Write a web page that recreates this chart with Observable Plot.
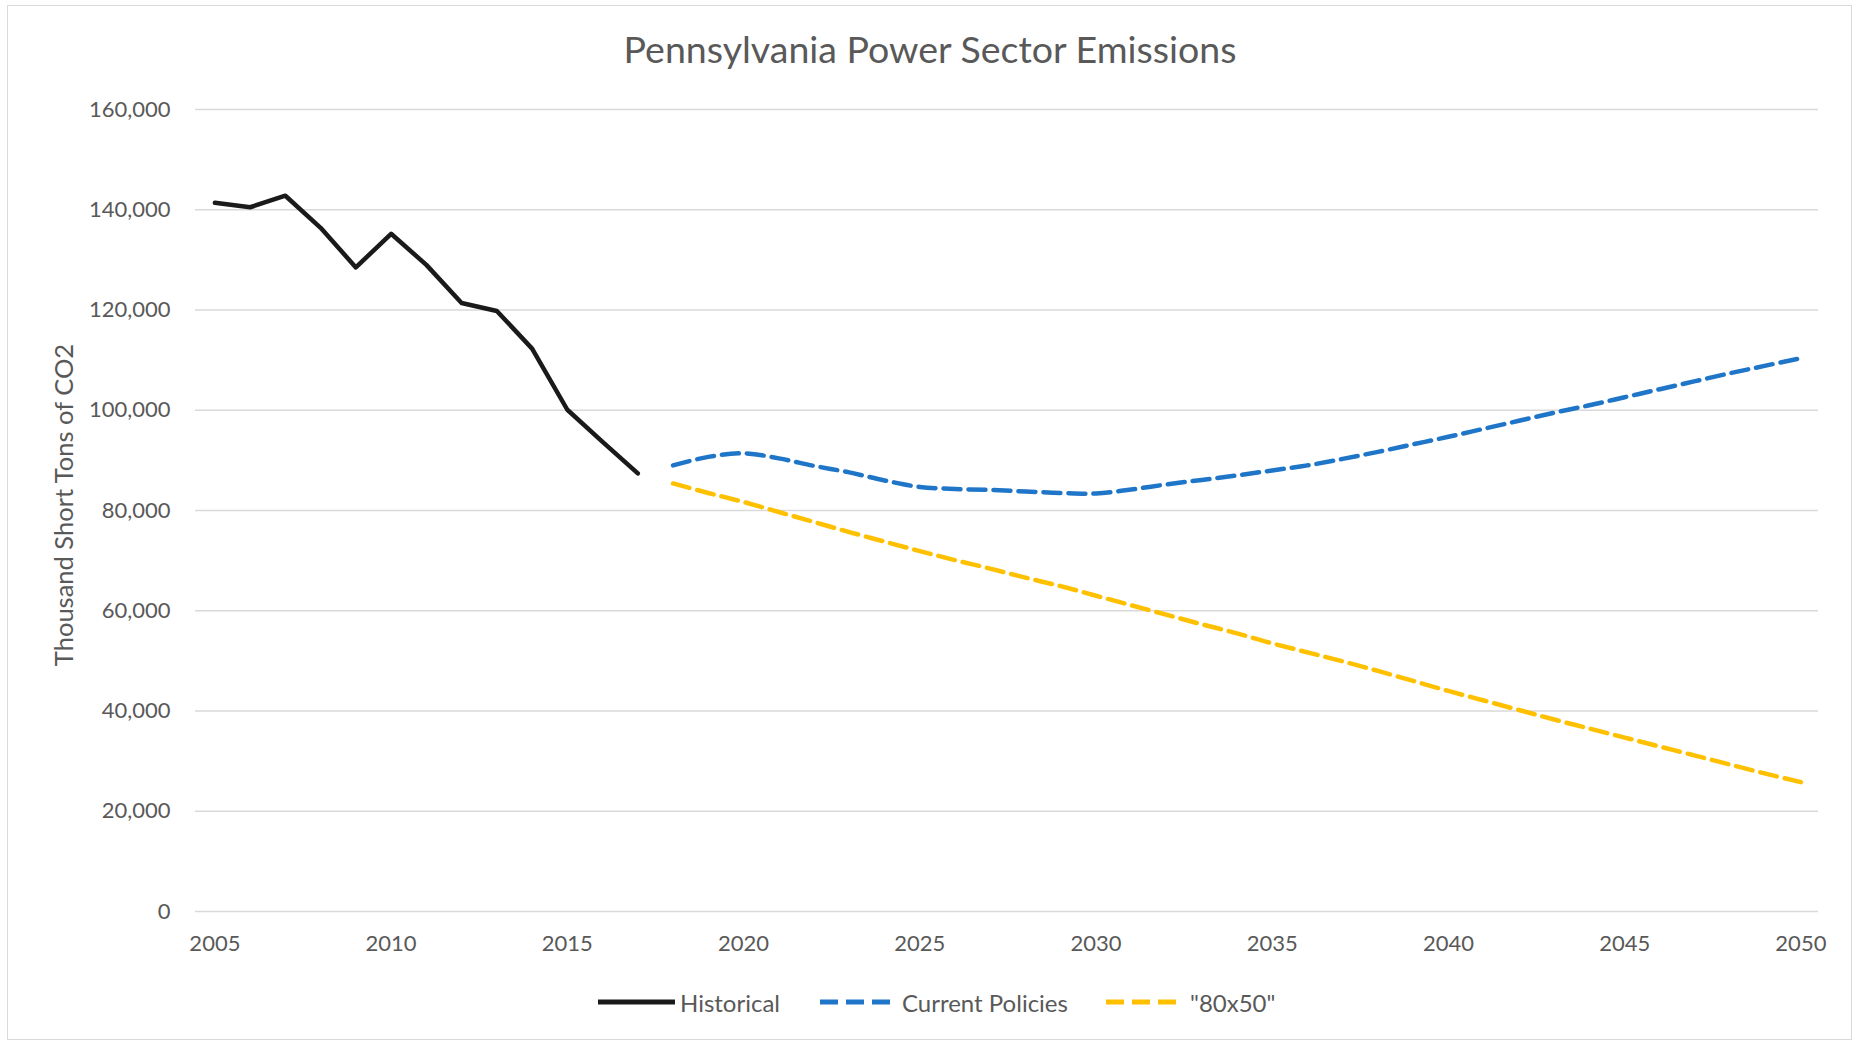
<!DOCTYPE html>
<html>
<head>
<meta charset="utf-8">
<script src="https://cdn.jsdelivr.net/npm/d3@7"></script>
<script src="https://cdn.jsdelivr.net/npm/@observablehq/plot@0.6"></script>
<style>
  html, body { margin: 0; padding: 0; background: #fff; }
  body { width: 1860px; height: 1042px; position: relative; overflow: hidden; font-family: Lato, "Open Sans", sans-serif; }
  #frame { position: absolute; left: 7px; top: 5px; width: 1845px; height: 1035px; border: 1.5px solid #d9d9d9; box-sizing: border-box; }
  #title { position: absolute; left: 0; top: 26px; width: 1860px; text-align: center; font-size: 37.5px; line-height: 1.2; color: #595959; white-space: nowrap; }
  #ylabel { position: absolute; left: -137px; top: 490px; width: 400px; height: 30px; line-height: 30px; text-align: center; font-size: 25.5px; color: #595959; transform: rotate(-90deg); white-space: nowrap; }
  #chart { position: absolute; left: 0; top: 80px; }
  .leg { position: absolute; top: 987px; height: 30px; display: flex; align-items: center; font-size: 24px; color: #595959; white-space: nowrap; }
  .leg svg { display: block; }
</style>
</head>
<body>
<div id="frame"></div>
<div id="title">Pennsylvania Power Sector Emissions</div>
<div id="ylabel">Thousand Short Tons of CO2</div>
<div id="chart"></div>
<div id="legend"></div>
<script>
// ---- data ----
const historicalYears = [2005, 2006, 2007, 2008, 2009, 2010, 2011, 2012, 2013, 2014, 2015, 2016, 2017];
const historicalValues = [141400, 140500, 142800, 136400, 128500, 135200, 129000, 121400, 119800, 112300, 100100, 93700, 87400];

const projectionYears = [2018, 2019, 2020, 2021, 2022, 2023, 2024, 2025, 2026, 2027, 2028, 2029, 2030,
  2031, 2032, 2033, 2034, 2035, 2036, 2037, 2038, 2039, 2040, 2041, 2042, 2043, 2044, 2045, 2046, 2047, 2048, 2049, 2050];
const currentPoliciesValues = [89000, 90700, 91400, 90400, 88900, 87600, 86000, 84700, 84300, 84100, 83800, 83500, 83400,
  84200, 85200, 86100, 87000, 88000, 89000, 90300, 91700, 93200, 94700, 96300, 97900, 99500, 101000, 102600, 104200, 105800, 107400, 108900, 110400];
const eightyBy50Values = [85400, 83500, 81700, 79700, 77700, 75700, 73800, 71900, 70100, 68400, 66600, 64900, 63000,
  61100, 59200, 57300, 55500, 53500, 51700, 49900, 48000, 46000, 44000, 42100, 40200, 38300, 36500, 34700, 32900, 31100, 29300, 27500, 25800];

const seriesNames = ["Historical", "Current Policies", "\"80x50\""];
const xTicks = [2005, 2010, 2015, 2020, 2025, 2030, 2035, 2040, 2045, 2050];
const yTicks = [0, 20000, 40000, 60000, 80000, 100000, 120000, 140000, 160000];

// ---- tables ----
const historical = historicalYears.map((year, i) => ({year, value: historicalValues[i]}));
const currentPolicies = projectionYears.map((year, i) => ({year, value: currentPoliciesValues[i]}));
const eightyBy50 = projectionYears.map((year, i) => ({year, value: eightyBy50Values[i]}));

const colors = {hist: "#1a1a1a", cp: "#1f76c8", y: "#ffc000"};
const dash = "17,8";
const commaFmt = d3.format(",");

const chart = Plot.plot({
  width: 1860,
  height: 880,
  marginTop: 29,
  marginBottom: 49,
  marginLeft: 195,
  marginRight: 42,
  style: {fontFamily: "Lato, 'Open Sans', sans-serif", fontSize: "22px", color: "#595959", background: "transparent", overflow: "visible"},
  x: {domain: [2004.45, 2050.5], ticks: xTicks, tickFormat: d => String(d), tickSize: 0, tickPadding: 24, label: null},
  y: {domain: [0, 160000], ticks: yTicks, tickFormat: d => commaFmt(d), tickSize: 0, tickPadding: 25, label: null},
  marks: [
    Plot.ruleY(yTicks, {stroke: "#d9d9d9", strokeWidth: 1.5}),
    Plot.lineY(historical, {x: "year", y: "value", stroke: colors.hist, strokeWidth: 4.5, strokeLinejoin: "round", strokeLinecap: "round"}),
    Plot.lineY(currentPolicies, {x: "year", y: "value", stroke: colors.cp, strokeWidth: 4.5, strokeDasharray: dash, curve: "catmull-rom"}),
    Plot.lineY(eightyBy50, {x: "year", y: "value", stroke: colors.y, strokeWidth: 4.5, strokeDasharray: dash, curve: "catmull-rom"})
  ]
});
document.getElementById("chart").appendChild(chart);

// ---- legend ----
const legendItems = [
  {name: seriesNames[0], color: colors.hist, dash: null, left: 598, sw: 77, gap: 5},
  {name: seriesNames[1], color: colors.cp, dash: "18,8", left: 820, sw: 70, gap: 12},
  {name: seriesNames[2], color: colors.y, dash: "18,8", left: 1106, sw: 72, gap: 12}
];
const legend = document.getElementById("legend");
for (const it of legendItems) {
  const div = document.createElement("div");
  div.className = "leg";
  div.style.left = it.left + "px";
  const ns = "http://www.w3.org/2000/svg";
  const svg = document.createElementNS(ns, "svg");
  svg.setAttribute("width", it.sw);
  svg.setAttribute("height", 12);
  svg.style.marginRight = it.gap + "px";
  const line = document.createElementNS(ns, "line");
  line.setAttribute("x1", 0); line.setAttribute("x2", it.sw);
  line.setAttribute("y1", 6); line.setAttribute("y2", 6);
  line.setAttribute("stroke", it.color);
  line.setAttribute("stroke-width", 5);
  if (it.dash) line.setAttribute("stroke-dasharray", it.dash);
  svg.appendChild(line);
  div.appendChild(svg);
  const span = document.createElement("span");
  span.textContent = it.name;
  div.appendChild(span);
  legend.appendChild(div);
}
</script>
</body>
</html>
